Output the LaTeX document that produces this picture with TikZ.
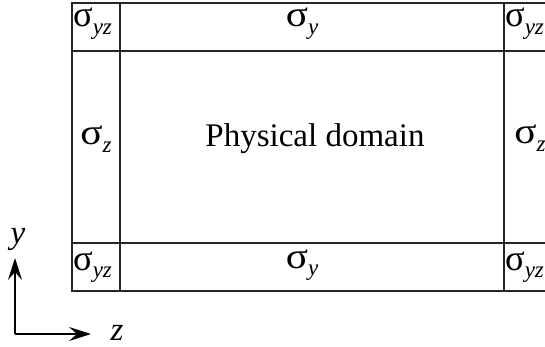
\documentclass[tikz,border=0pt]{standalone}
\usepackage{fontspec}
\setmainfont{Liberation Serif}
\usetikzlibrary{arrows.meta}
\newcommand{\sgm}[2][1.25]{\scalebox{#1}[1.1]{σ}\raisebox{-0.22em}{\fontsize{23}{23}\selectfont\itshape #2}}
\begin{document}
\begin{tikzpicture}[x=1pt,y=-1pt,
  grid/.style={line width=1.1pt,black!85},
  lbl/.style={inner sep=0pt,anchor=base,font=\fontsize{33}{38}\selectfont},
  corner/.style={lbl,anchor=base west},
  axis/.style={line width=1.3pt,arrows={-Stealth[length=22pt,width=14pt,inset=8pt]}}]
\useasboundingbox (0,0) rectangle (545,347);
% grid
\coordinate (tl) at (72,3);
\coordinate (bl) at (72,291);
\draw[grid] (545,3) -- (tl) -- (bl) -- (545,291);
\draw[grid] (72,51) -- (545,51);
\draw[grid] (72,243) -- (545,243);
\draw[grid] (120,3) -- (120,291);
\draw[grid] (504,3) -- (504,291);
% labels
\node[corner] (c1) at (73,27) {\sgm[1.1]{yz}};
\node[corner] (c2) at (505,27) {\sgm[1.1]{yz}};
\node[corner] (c3) at (73,270) {\sgm[1.1]{yz}};
\node[corner] (c4) at (505,270) {\sgm[1.1]{yz}};
\node[lbl] (st) at (302,27) {\sgm{y}};
\node[lbl] (sb) at (302,268) {\sgm{y}};
\node[lbl] (sl) at (96,145) {\sgm{z}};
\node[lbl] (sr) at (530,144) {\sgm{z}};
\node[lbl] (pd) at (315,147) {Physical domain};
% axes
\coordinate (o) at (15,334);
\coordinate (ytip) at (15,258);
\coordinate (ztip) at (91,334);
\draw[axis] (o) -- (ytip);
\draw[axis] (o) -- (ztip);
\node[lbl,font=\fontsize{33}{38}\selectfont\itshape] (ylab) at (18,243) {y};
\node[lbl,font=\fontsize{33}{38}\selectfont\itshape] (zlab) at (117,340) {z};
\end{tikzpicture}
\end{document}
